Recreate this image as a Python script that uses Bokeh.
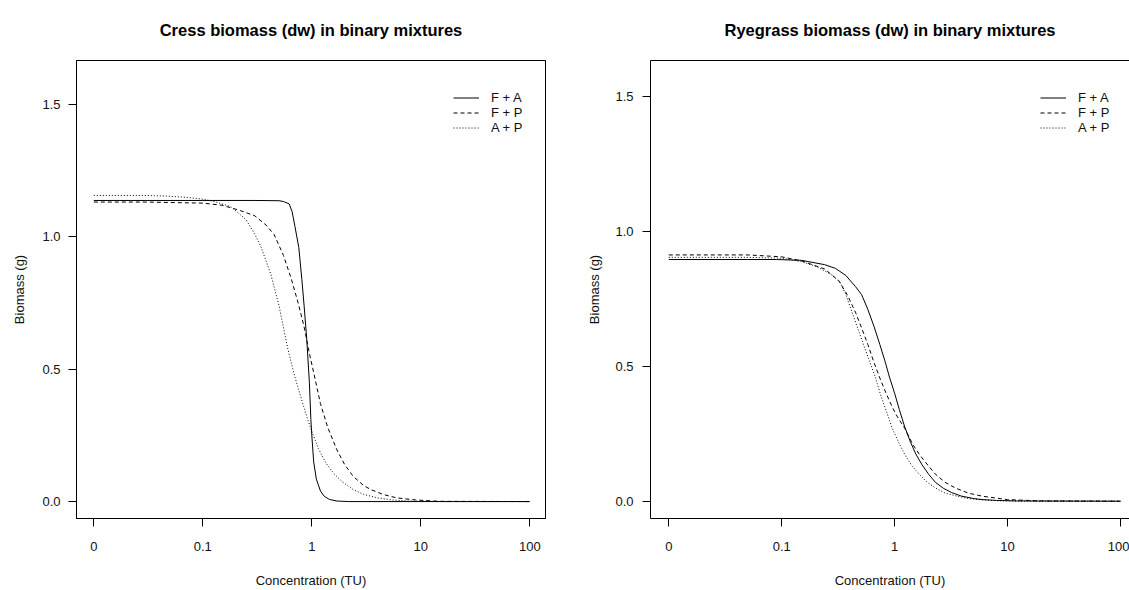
from bokeh.plotting import figure
from bokeh.models import (FixedTicker, Legend, LegendItem, Range1d, LinearAxis,
                          PrintfTickFormatter)
from bokeh.layouts import row
from bokeh.embed import file_html
from bokeh.resources import INLINE

FONT = "Liberation Sans"

# ---------------- data ----------------
x_ticks = [0.01, 0.1, 1, 10, 100]
x_tick_labels = ["0", "0.1", "1", "10", "100"]
y_ticks = [0.0, 0.5, 1.0, 1.5]
series_names = ["F + A", "F + P", "A + P"]

# Cress
cress_fa_x = [0.01, 0.03, 0.1, 0.3, 0.5, 0.55, 0.62, 0.66, 0.7, 0.76, 0.81, 0.85, 0.9,
              0.95, 0.98, 1.0, 1.04, 1.1, 1.2, 1.3, 1.45, 1.7, 2.2, 5, 20, 100]
cress_fa_y = [1.138, 1.138, 1.138, 1.138, 1.137, 1.134, 1.125, 1.095, 1.04, 0.96, 0.84,
              0.74, 0.61, 0.45, 0.31, 0.25, 0.15, 0.085, 0.04, 0.02, 0.008, 0.002, 0.0,
              0.0, 0.0, 0.0]

cress_fp_x = [0.01, 0.03, 0.1, 0.15, 0.22, 0.3, 0.38, 0.45, 0.55, 0.65, 0.75, 0.85, 0.95,
              1.05, 1.2, 1.4, 1.7, 2.0, 2.4, 3.0, 3.5, 4.5, 6, 9, 15, 100]
cress_fp_y = [1.132, 1.132, 1.128, 1.12, 1.10, 1.08, 1.045, 1.01, 0.93, 0.84, 0.75, 0.66,
              0.56, 0.48, 0.37, 0.28, 0.195, 0.14, 0.095, 0.06, 0.045, 0.027, 0.014,
              0.006, 0.001, 0.0]

cress_ap_x = [0.01, 0.03, 0.045, 0.07, 0.1, 0.13, 0.18, 0.25, 0.3, 0.34, 0.42, 0.5, 0.6,
              0.7, 0.8, 0.9, 1.0, 1.15, 1.35, 1.6, 1.9, 2.4, 3.0, 4.0, 5.5, 8, 15, 100]
cress_ap_y = [1.157, 1.157, 1.155, 1.15, 1.143, 1.133, 1.115, 1.065, 1.01, 0.965, 0.86,
              0.74, 0.58, 0.47, 0.39, 0.32, 0.265, 0.2, 0.145, 0.105, 0.075, 0.045,
              0.027, 0.014, 0.006, 0.002, 0.0, 0.0]

# Ryegrass
rye_fa_x = [0.01, 0.05, 0.09, 0.15, 0.24, 0.3, 0.37, 0.45, 0.51, 0.58, 0.66, 0.74, 0.82,
            0.9, 1.0, 1.1, 1.23, 1.38, 1.54, 1.75, 2.0, 2.3, 2.7, 3.2, 3.9, 5, 6, 8, 12, 100]
rye_fa_y = [0.895, 0.895, 0.895, 0.892, 0.876, 0.862, 0.836, 0.795, 0.765, 0.71, 0.645,
            0.58, 0.52, 0.46, 0.4, 0.34, 0.275, 0.22, 0.175, 0.135, 0.1, 0.07, 0.048,
            0.032, 0.019, 0.01, 0.006, 0.003, 0.001, 0.0]

rye_fp_x = [0.01, 0.05, 0.1, 0.15, 0.24, 0.32, 0.38, 0.45, 0.51, 0.58, 0.65, 0.75, 0.85,
            0.95, 1.05, 1.23, 1.45, 1.66, 2.0, 2.3, 2.8, 3.45, 4.5, 6, 10, 20, 100]
rye_fp_y = [0.912, 0.912, 0.905, 0.89, 0.86, 0.817, 0.765, 0.70, 0.642, 0.58, 0.519, 0.45,
            0.395, 0.35, 0.315, 0.27, 0.21, 0.173, 0.13, 0.1, 0.07, 0.049, 0.03, 0.0185,
            0.006, 0.001, 0.0]

rye_ap_x = [0.01, 0.05, 0.1, 0.15, 0.2, 0.27, 0.33, 0.37, 0.42, 0.47, 0.53, 0.6, 0.68,
            0.75, 0.85, 0.95, 1.08, 1.23, 1.43, 1.66, 1.95, 2.3, 2.8, 3.6, 4.5, 5.6, 8, 15, 100]
rye_ap_y = [0.903, 0.903, 0.9, 0.887, 0.87, 0.842, 0.81, 0.765, 0.70, 0.642, 0.58, 0.519,
            0.455, 0.395, 0.33, 0.272, 0.22, 0.173, 0.13, 0.099, 0.07, 0.049, 0.03,
            0.0185, 0.01, 0.006, 0.002, 0.0, 0.0]

DASHES = ["solid", "4 3", "1 2"]
TXT = "#111111"


def style_axes(p, ylab_standoff_major, ylab_standoff_title):
    for ax in p.below:
        ax.ticker = FixedTicker(ticks=x_ticks)
        ax.major_label_overrides = {t: l for t, l in zip(x_ticks, x_tick_labels)}
        ax.minor_tick_line_color = None
        ax.major_tick_out = 8
        ax.major_tick_in = 0
        ax.major_label_standoff = 15
        ax.major_label_text_font = FONT
        ax.major_label_text_font_size = "13px"
        ax.major_label_text_color = TXT
        ax.axis_label = "Concentration (TU)"
        ax.axis_label_text_font = FONT
        ax.axis_label_text_font_size = "13px"
        ax.axis_label_text_font_style = "normal"
        ax.axis_label_text_color = TXT
        ax.axis_label_standoff = 19
        ax.axis_line_color = "black"
        ax.major_tick_line_color = "black"
    for ax in p.left:
        ax.ticker = FixedTicker(ticks=y_ticks)
        ax.formatter = PrintfTickFormatter(format="%.1f")
        ax.minor_tick_line_color = None
        ax.major_tick_out = 8
        ax.major_tick_in = 0
        ax.major_label_standoff = ylab_standoff_major
        ax.major_label_text_font = FONT
        ax.major_label_text_font_size = "13px"
        ax.major_label_text_color = TXT
        ax.axis_label = "Biomass (g)"
        ax.axis_label_text_font = FONT
        ax.axis_label_text_font_size = "13px"
        ax.axis_label_text_font_style = "normal"
        ax.axis_label_text_color = TXT
        ax.axis_label_standoff = ylab_standoff_title
        ax.axis_line_color = "black"
        ax.major_tick_line_color = "black"
    p.xgrid.visible = False
    p.ygrid.visible = False
    p.title.text_font = FONT
    p.title.text_font_size = "16.5px"
    p.title.text_font_style = "bold"
    p.title.align = "center"
    p.title.standoff = 36
    p.title.text_color = "black"


def add_top_edge(p, line_color):
    # empty axis along the top edge of the plot box (draws the top border line)
    ax = LinearAxis(major_tick_line_color=None, minor_tick_line_color=None,
                    major_label_text_font_size="0px", major_label_text_alpha=0,
                    major_label_standoff=0, major_tick_out=0, major_tick_in=0,
                    axis_line_color=line_color)
    p.add_layout(ax, "above")


def add_curves(p, xs_list, ys_list, legend_x, legend_y):
    items = []
    for xs, ys, dash, name in zip(xs_list, ys_list, DASHES, series_names):
        r = p.line(xs, ys, line_color="black", line_width=1, line_dash=dash)
        items.append(LegendItem(label=name, renderers=[r]))
    leg = Legend(items=items, location=(legend_x, legend_y))
    leg.border_line_color = None
    leg.background_fill_alpha = 0
    leg.padding = 0
    leg.margin = 0
    leg.spacing = 0
    leg.glyph_width = 26
    leg.glyph_height = 15
    leg.label_height = 15
    leg.label_standoff = 12
    leg.label_text_font = FONT
    leg.label_text_font_size = "13px"
    leg.label_text_color = TXT
    p.add_layout(leg)


# ---------------- left panel ----------------
p1 = figure(width=580, height=590, x_axis_type="log",
            x_range=Range1d(10 ** -2.159, 10 ** 2.144),
            y_range=Range1d(-0.064, 1.667),
            title="Cress biomass (dw) in binary mixtures",
            toolbar_location=None, output_backend="svg",
            min_border_left=76, min_border_right=35,
            min_border_top=60, min_border_bottom=71)
p1.outline_line_color = "black"
p1.outline_line_alpha = 1
style_axes(p1, 8, 12)
add_top_edge(p1, "black")
add_curves(p1, [cress_fa_x, cress_fp_x, cress_ap_x],
           [cress_fa_y, cress_fp_y, cress_ap_y], 377, 383)

# ---------------- right panel ----------------
p2 = figure(width=549, height=590, x_axis_type="log",
            x_range=Range1d(10 ** -2.162, 10 ** 2.0806),
            y_range=Range1d(-0.064, 1.632),
            title="Ryegrass biomass (dw) in binary mixtures",
            toolbar_location=None, output_backend="svg",
            min_border_left=70, min_border_right=0,
            min_border_top=60, min_border_bottom=71)
p2.outline_line_color = None
style_axes(p2, 9, 10)
add_top_edge(p2, "black")
add_curves(p2, [rye_fa_x, rye_fp_x, rye_ap_x],
           [rye_fa_y, rye_fp_y, rye_ap_y], 390, 383)

layout = row(p1, p2)
open("out.html", "w").write(file_html(layout, INLINE))
